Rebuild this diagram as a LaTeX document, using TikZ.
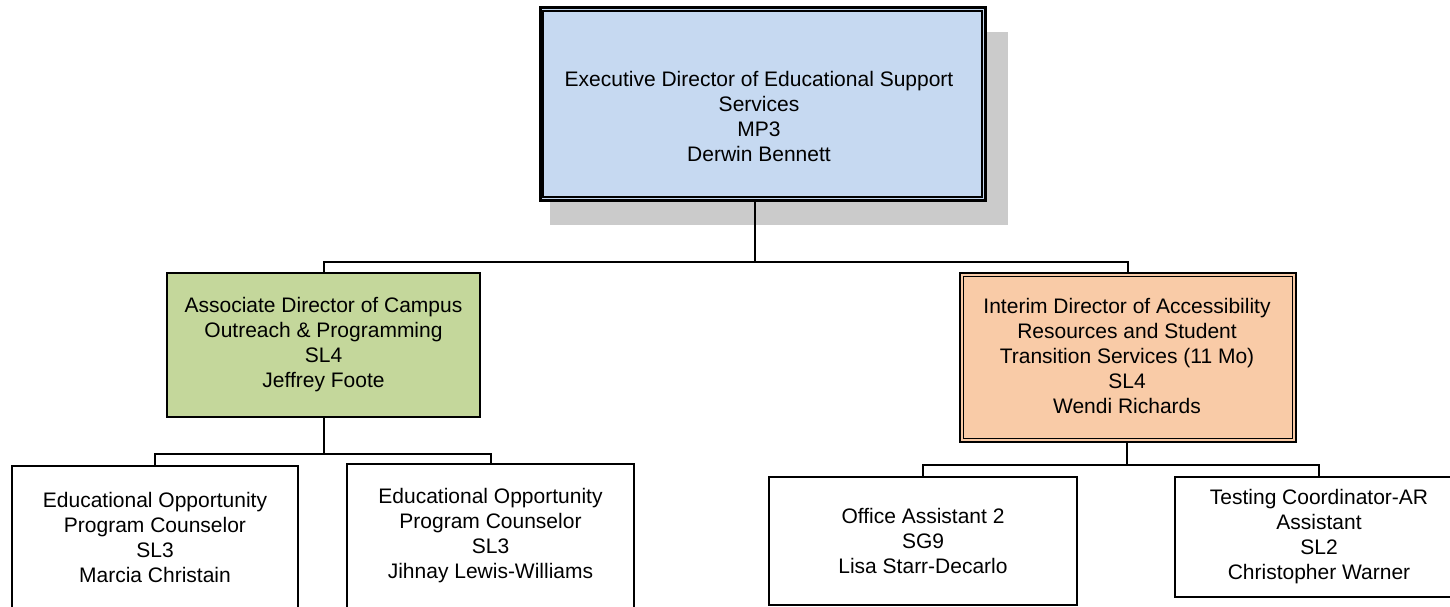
\documentclass[tikz,border=0pt]{standalone}
\usepackage{fontspec}
\setmainfont{Liberation Sans}
\definecolor{execblue}{HTML}{C6D9F1}
\definecolor{assocgreen}{HTML}{C4D79B}
\definecolor{interimorange}{HTML}{F9CBA7}
\definecolor{shadowgrey}{HTML}{CBCBCB}
\begin{document}
\begin{tikzpicture}[x=1pt,y=-1pt,
  box/.style={draw=black, line width=2pt, rectangle, inner sep=0pt, align=center,
    font=\fontsize{21}{25}\selectfont},
  txt/.style={inner sep=0pt, align=center, font=\fontsize{21}{25}\selectfont},
  conn/.style={draw=black, line width=2pt},
  innerline/.style={draw=black, line width=1.4pt}]
\useasboundingbox (0,0) rectangle (1450,607);
\clip (0,0) rectangle (1450,607);
% shadow
\fill[shadowgrey] (550,32) rectangle (1008,225);
% top box
\node[box, line width=3pt, fill=execblue, minimum width=445pt, minimum height=192pt] (exec) at (762.5,104) {};
\draw[innerline] ([shift={(4.5pt,-4.5pt)}]exec.north west) rectangle ([shift={(-4.5pt,4.5pt)}]exec.south east);
\node[txt] (exectxt) at (759,116) {Executive Director of Educational Support\\Services\\MP3\\Derwin Bennett};
% second level
\node[box, fill=assocgreen, minimum width=313pt, minimum height=144pt] (assoc) at (323.5,345)
  {Associate Director of Campus\\Outreach \& Programming\\SL4\\Jeffrey Foote};
\node[box, line width=2.5pt, fill=interimorange, minimum width=336pt, minimum height=169pt] (interim) at (1128,357.5) {};
\draw[innerline] ([shift={(4.5pt,-4.5pt)}]interim.north west) rectangle ([shift={(-4.5pt,4.5pt)}]interim.south east);
\node[txt] (interimtxt) at (1127,356) {Interim Director of Accessibility\\Resources and Student\\Transition Services (11 Mo)\\SL4\\Wendi Richards};
% third level
\node[box, fill=white, minimum width=286pt, minimum height=143pt] (eop1) at (155,537.5)
  {Educational Opportunity\\Program Counselor\\SL3\\Marcia Christain};
\node[box, fill=white, minimum width=287pt, minimum height=144pt] (eop2) at (490.5,536)
  {Educational Opportunity\\Program Counselor\\SL3\\Jihnay Lewis-Williams};
\node[box, fill=white, minimum width=308pt, minimum height=128pt] (office) at (923,541)
  {Office Assistant 2\\SG9\\Lisa Starr-Decarlo};
\node[box, fill=white, minimum width=288pt, minimum height=120pt] (testing) at (1319,537)
  {Testing Coordinator-AR\\Assistant\\SL2\\Christopher Warner};
% connectors
\coordinate (j0) at (755,262);
\coordinate (j1) at (323.5,454);
\coordinate (j2) at (1127,465);
\draw[conn] (exec.south -| j0) -- (j0);
\draw[conn] (assoc.north) |- (j0) -| (interim.north);
\draw[conn] (assoc.south) -- (j1);
\draw[conn] (eop1.north) |- (j1) -| (eop2.north);
\draw[conn] (interim.south -| j2) -- (j2);
\draw[conn] (office.north) |- (j2) -| (testing.north);
\end{tikzpicture}
\end{document}
